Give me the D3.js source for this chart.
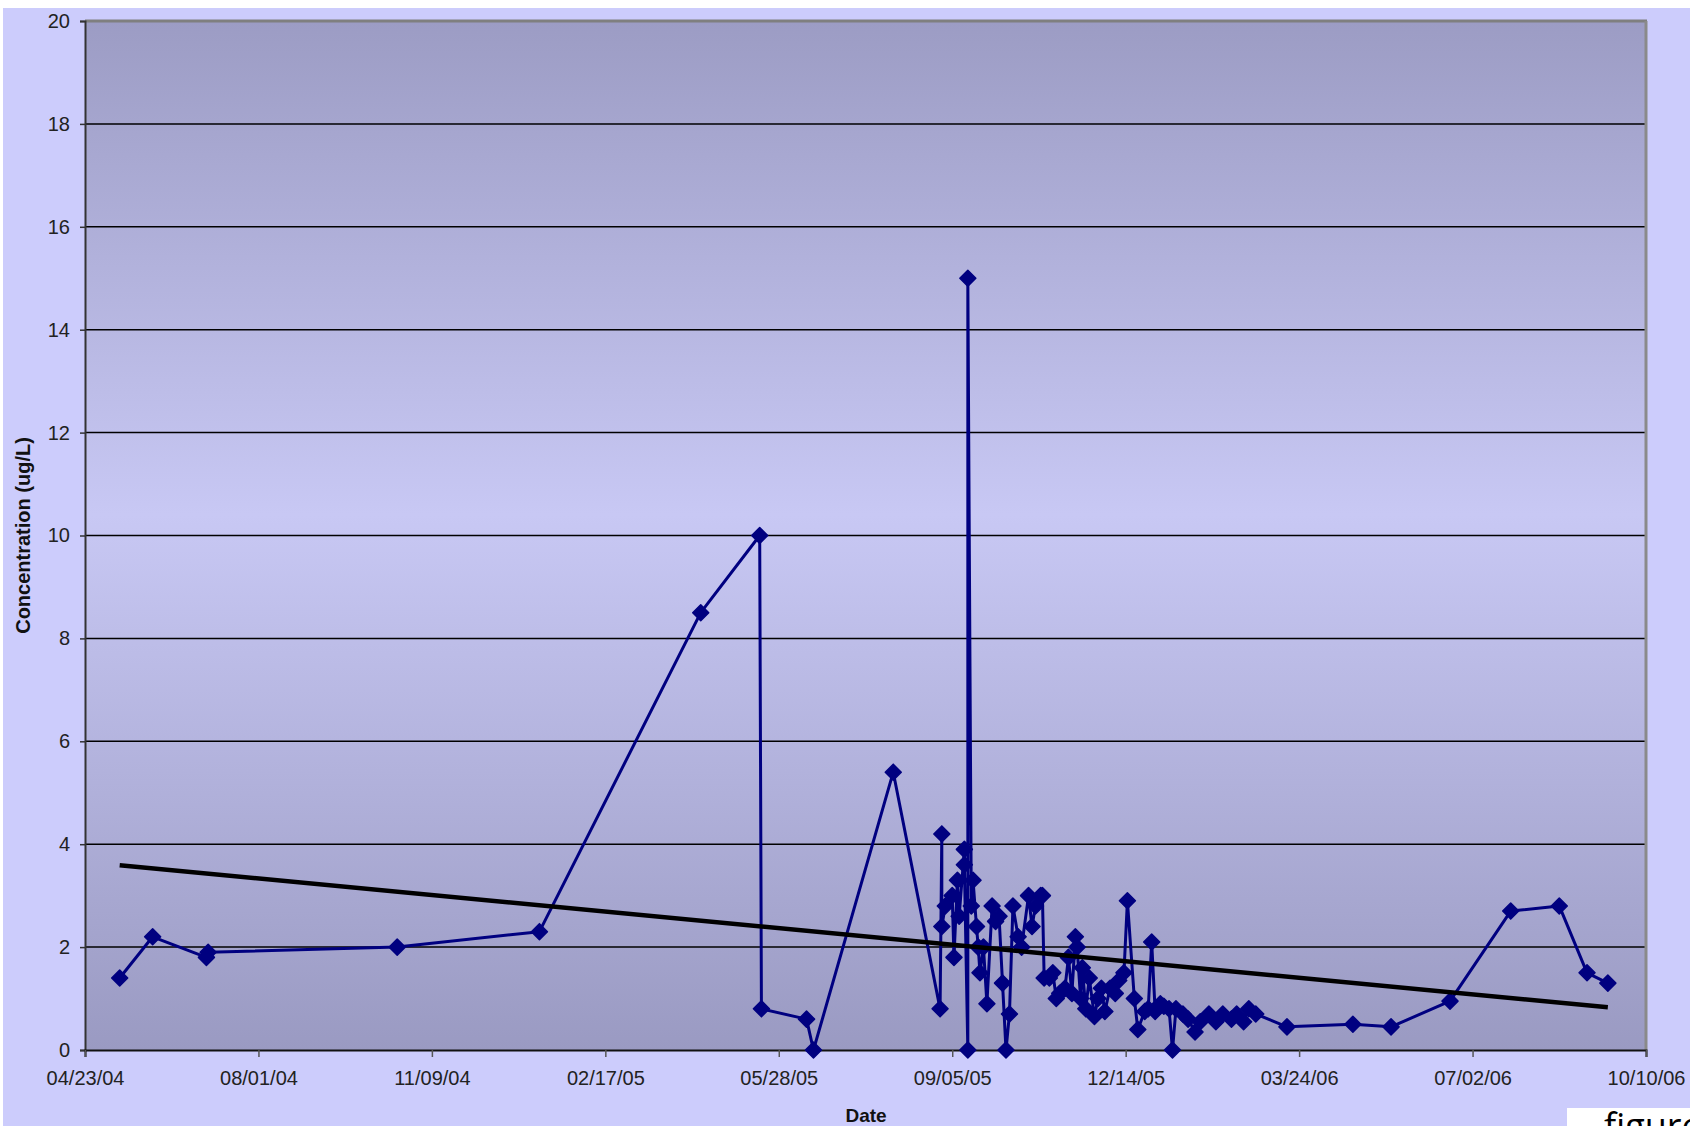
<!DOCTYPE html>
<html>
<head>
<meta charset="utf-8">
<script src="https://cdn.jsdelivr.net/npm/d3@7"></script>
<style>
  body { margin: 0; background: #fff; overflow: hidden; }
  #container { width: 1690px; height: 1126px; }
  text { font-family: "Liberation Sans", Arial, sans-serif; }
</style>
</head>
<body>
<div id="container"></div>
<script>
// sample dates and measured concentrations (ug/L)
const sampleDates = [
  '2004-05-13', '2004-06-01', '2004-07-02', '2004-07-03', '2004-10-20', '2005-01-10',
  '2005-04-13', '2005-05-17', '2005-05-18', '2005-06-13', '2005-06-17', '2005-08-02',
  '2005-08-29', '2005-08-30', '2005-08-30', '2005-09-01', '2005-09-05', '2005-09-06',
  '2005-09-08', '2005-09-09', '2005-09-12', '2005-09-12', '2005-09-14', '2005-09-14',
  '2005-09-16', '2005-09-17', '2005-09-19', '2005-09-20', '2005-09-21', '2005-09-23',
  '2005-09-25', '2005-09-28', '2005-09-30', '2005-10-02', '2005-10-04', '2005-10-06',
  '2005-10-08', '2005-10-10', '2005-10-13', '2005-10-15', '2005-10-19', '2005-10-21',
  '2005-10-23', '2005-10-26', '2005-10-27', '2005-10-28', '2005-10-31', '2005-11-02',
  '2005-11-04', '2005-11-06', '2005-11-09', '2005-11-11', '2005-11-13', '2005-11-15',
  '2005-11-16', '2005-11-18', '2005-11-19', '2005-11-21', '2005-11-23', '2005-11-26',
  '2005-11-28', '2005-11-30', '2005-12-02', '2005-12-05', '2005-12-08', '2005-12-10',
  '2005-12-13', '2005-12-15', '2005-12-19', '2005-12-21', '2005-12-25', '2005-12-27',
  '2005-12-29', '2005-12-31', '2006-01-03', '2006-01-05', '2006-01-08', '2006-01-10',
  '2006-01-12', '2006-01-16', '2006-01-19', '2006-01-23', '2006-01-26', '2006-01-31',
  '2006-02-04', '2006-02-08', '2006-02-13', '2006-02-16', '2006-02-20', '2006-02-23',
  '2006-02-27', '2006-03-17', '2006-04-24', '2006-05-16', '2006-06-19', '2006-07-24',
  '2006-08-21', '2006-09-06', '2006-09-18'
]
const concentrations = [
  1.4, 2.2, 1.8, 1.9, 2.0, 2.3,
  8.5, 10.0, 0.8, 0.6, 0.0, 5.4,
  0.8, 4.2, 2.4, 2.8, 3.0, 1.8,
  3.3, 2.6, 3.9, 3.6, 0.0, 15.0,
  2.8, 3.3, 2.4, 2.0, 1.5, 2.0,
  0.9, 2.8, 2.5, 2.6, 1.3, 0.0,
  0.7, 2.8, 2.2, 2.0, 3.0, 2.4,
  2.8, 3.0, 3.0, 1.4, 1.4, 1.5,
  1.0, 1.1, 1.2, 1.8, 1.1, 2.2,
  2.0, 1.0, 1.6, 0.8, 1.4, 0.65,
  1.0, 1.2, 0.75, 1.2, 1.1, 1.35,
  1.5, 2.9, 1.0, 0.4, 0.75, 0.8,
  2.1, 0.75, 0.9, 0.85, 0.8, 0.0,
  0.8, 0.7, 0.6, 0.35, 0.55, 0.7,
  0.55, 0.7, 0.6, 0.7, 0.55, 0.8,
  0.7, 0.45, 0.5, 0.45, 0.95, 2.7,
  2.8, 1.5, 1.3
]

// linear trend line end points
const trendDates = ['2004-05-13', '2006-09-18']
const trendValues = [3.59, 0.83]

const xTickDates = ['2004-04-23', '2004-08-01', '2004-11-09', '2005-02-17', '2005-05-28',
  '2005-09-05', '2005-12-14', '2006-03-24', '2006-07-02', '2006-10-10']
const yTicks = [0, 2, 4, 6, 8, 10, 12, 14, 16, 18, 20]

const parse = d3.utcParse('%Y-%m-%d')

const width = 1690
const height = 1126
const margin = { top: 21, right: 44, bottom: 76, left: 85 }

const svg = d3.select('#container').append('svg')
  .attr('width', width).attr('height', height)

// outer background (thin white strip at top/left like the original)
svg.append('rect').attr('x', 3).attr('y', 8)
  .attr('width', width).attr('height', height).attr('fill', '#ccccfc')

const defs = svg.append('defs')
const grad = defs.append('linearGradient').attr('id', 'plotBg')
  .attr('x1', 0).attr('y1', 0).attr('x2', 0).attr('y2', 1)
grad.append('stop').attr('offset', '0%').attr('stop-color', '#9c9cc4')
grad.append('stop').attr('offset', '48%').attr('stop-color', '#c8c8f4')
grad.append('stop').attr('offset', '100%').attr('stop-color', '#9a9ac2')

const xScale = d3.scaleUtc()
  .domain([parse(xTickDates[0]), parse(xTickDates[xTickDates.length - 1])])
  .range([margin.left, width - margin.right])

const yScale = d3.scaleLinear()
  .domain([0, 20])
  .range([height - margin.bottom, margin.top])

// plot area
svg.append('rect')
  .attr('x', margin.left).attr('y', margin.top)
  .attr('width', width - margin.right - margin.left)
  .attr('height', height - margin.bottom - margin.top)
  .attr('fill', 'url(#plotBg)')

// gridlines
svg.append('g').selectAll('line').data(yTicks.filter(d => d > 0 && d < 20)).enter().append('line')
  .attr('x1', margin.left).attr('x2', width - margin.right)
  .attr('y1', d => yScale(d)).attr('y2', d => yScale(d))
  .attr('stroke', '#000').attr('stroke-width', 1.5)

// top / right border
svg.append('line').attr('x1', margin.left).attr('x2', width - margin.right + 1)
  .attr('y1', yScale(20)).attr('y2', yScale(20))
  .attr('stroke', '#7f7f7f').attr('stroke-width', 3)
svg.append('line').attr('x1', width - margin.right).attr('x2', width - margin.right)
  .attr('y1', yScale(20)).attr('y2', yScale(0))
  .attr('stroke', '#8a8a8a').attr('stroke-width', 3)

// y axis
const yAxis = d3.axisLeft(yScale).tickValues(yTicks).tickSize(5).tickPadding(10)
const gy = svg.append('g')
  .attr('id', 'y-axis')
  .attr('transform', `translate(${margin.left}, 0)`)
  .call(yAxis)
gy.select('.domain').attr('stroke', '#333').attr('stroke-width', 2)
gy.selectAll('.tick line').attr('stroke', '#333').attr('stroke-width', 1.5)
gy.selectAll('.tick text').attr('font-size', 20).attr('fill', '#222')
  .style('font-family', '"Liberation Sans", Arial, sans-serif')

// x axis
const xAxis = d3.axisBottom(xScale)
  .tickValues(xTickDates.map(parse))
  .tickFormat(d3.utcFormat('%m/%d/%y'))
  .tickSize(7).tickPadding(14)
const gx = svg.append('g')
  .attr('id', 'x-axis')
  .attr('transform', `translate(0, ${height - margin.bottom})`)
  .call(xAxis)
gx.select('.domain').attr('stroke', '#111').attr('stroke-width', 2)
gx.selectAll('.tick line').attr('stroke', '#555').attr('stroke-width', 1.5)
gx.selectAll('.tick text').attr('font-size', 20).attr('fill', '#222')
  .style('font-family', '"Liberation Sans", Arial, sans-serif')

// axis titles
svg.append('text')
  .attr('transform', `translate(30, ${(yScale(0) + yScale(20)) / 2}) rotate(-90)`)
  .attr('text-anchor', 'middle')
  .attr('font-size', 20).attr('font-weight', 'bold').attr('fill', '#111')
  .text('Concentration (ug/L)')

svg.append('text')
  .attr('x', 866).attr('y', 1122)
  .attr('text-anchor', 'middle')
  .attr('font-size', 19).attr('font-weight', 'bold').attr('fill', '#111')
  .text('Date')

// data series
const dataset = sampleDates.map((d, i) => [parse(d), concentrations[i]])

const line = d3.line()
  .x(d => xScale(d[0]))
  .y(d => yScale(d[1]))

svg.append('path')
  .datum(dataset)
  .attr('fill', 'none')
  .attr('stroke', '#000080')
  .attr('stroke-width', 3)
  .attr('stroke-linejoin', 'round')
  .attr('d', line)

const diamond = 'M0,-8L8,0L0,8L-8,0Z'
svg.append('g').selectAll('path').data(dataset).enter().append('path')
  .attr('d', diamond)
  .attr('transform', d => `translate(${xScale(d[0])}, ${yScale(d[1])})`)
  .attr('fill', '#000080')
  .attr('stroke', '#000080')
  .attr('stroke-width', 1.5)
  .attr('stroke-linejoin', 'round')

// trend line on top
const trend = trendDates.map((d, i) => [parse(d), trendValues[i]])
svg.append('path')
  .datum(trend)
  .attr('fill', 'none')
  .attr('stroke', '#000')
  .attr('stroke-width', 4.5)
  .attr('d', line)

// cut-off caption box at bottom right (cropped in the original too)
svg.append('rect').attr('x', 1567).attr('y', 1108)
  .attr('width', 130).attr('height', 30).attr('fill', '#fff')
svg.append('text').attr('x', 1604).attr('y', 1139)
  .attr('font-size', 36).attr('fill', '#000')
  .style('font-family', '"Open Sans", sans-serif')
  .text('figure')
</script>
</body>
</html>
